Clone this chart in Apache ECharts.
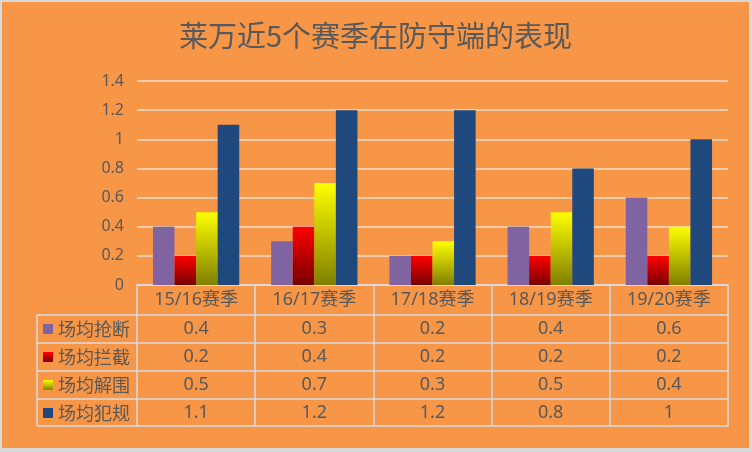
<!DOCTYPE html>
<html><head><meta charset="utf-8">
<script src="https://cdn.jsdelivr.net/npm/echarts@6/dist/echarts.min.js"></script>
<style>
html,body{margin:0;padding:0;background:#D9D9D9;width:752px;height:452px;overflow:hidden;}
#c{position:absolute;left:2px;top:2px;width:747px;height:446px;}
</style></head><body>
<div id="c"></div>
<script>
const categories = ['15/16赛季','16/17赛季','17/18赛季','18/19赛季','19/20赛季'];
const seriesNames = ['场均抢断','场均拦截','场均解围','场均犯规'];
const steals = [0.4, 0.3, 0.2, 0.4, 0.6];
const blocks = [0.2, 0.4, 0.2, 0.2, 0.2];
const clearances = [0.5, 0.7, 0.3, 0.5, 0.4];
const fouls = [1.1, 1.2, 1.2, 0.8, 1];
const yTicks = {min: 0, max: 1.4, interval: 0.2};

const TXT = '#595959';
const TABLE_LINE = '#D8DCE2';
const GRID_LINE = '#F1DDCC';
const FONT = 'Noto Sans, Noto Sans CJK SC, sans-serif';

const W = 747, H = 446;
const gridLeft = 135, gridRight = 21, gridTop = 79, gridBottom = 163;
const axisY = H - gridBottom;            // y of category axis line
const headerH = 30;
const rowHs = [28, 28, 28, 27];
const legendLeft = 35;

const values = [steals, blocks, clearances, fouls];
const colors = [
  '#8064A2',
  {type:'linear',x:0,y:0,x2:0,y2:1,colorStops:[{offset:0,color:'#FF0000'},{offset:1,color:'#780000'}]},
  {type:'linear',x:0,y:0,x2:0,y2:1,colorStops:[{offset:0,color:'#FFFF00'},{offset:1,color:'#7F7F00'}]},
  '#1F497D'
];

// row top offsets below the axis line
const rowOffsets = [];
let acc = headerH;
for (let i = 0; i < rowHs.length; i++) { rowOffsets.push(acc); acc += rowHs[i]; }
const tableBottomOffset = acc;

const xAxes = [{
  type:'category', data: categories, gridIndex:0, position:'bottom',
  axisLine:{show:true, lineStyle:{color:TABLE_LINE, width:1.5}},
  axisTick:{show:true, length:headerH, lineStyle:{color:TABLE_LINE, width:1.5}},
  axisLabel:{interval:0, margin:headerH/2, verticalAlign:'middle', color:TXT, fontSize:18, fontFamily:FONT},
  splitLine:{show:false}
}];
values.forEach((vals, i) => {
  xAxes.push({
    type:'category', data: vals.map(v => String(v)), gridIndex:0, position:'bottom', offset: rowOffsets[i],
    axisLine:{show:true, lineStyle:{color:TABLE_LINE, width:1.5}},
    axisTick:{show:true, length:rowHs[i], lineStyle:{color:TABLE_LINE, width:1.5}},
    axisLabel:{interval:0, margin:rowHs[i]/2, verticalAlign:'middle', color:TXT, fontSize:18, fontFamily:FONT},
    splitLine:{show:false}
  });
});
xAxes.push({
  type:'category', data: categories, gridIndex:0, position:'bottom', offset: tableBottomOffset,
  axisLine:{show:true, lineStyle:{color:TABLE_LINE, width:1.5}},
  axisTick:{show:false}, axisLabel:{show:false}, splitLine:{show:false}
});

// left legend-column lines
const graphics = [];
const lineYs = [axisY + headerH];
rowOffsets.forEach((o, i) => lineYs.push(axisY + o + rowHs[i]));
lineYs.forEach(y => graphics.push({type:'line', shape:{x1:legendLeft, y1:y, x2:gridLeft, y2:y}, style:{stroke:TABLE_LINE, lineWidth:1.5}, silent:true}));
graphics.push({type:'line', shape:{x1:legendLeft, y1:axisY+headerH, x2:legendLeft, y2:axisY+tableBottomOffset}, style:{stroke:TABLE_LINE, lineWidth:1.5}, silent:true});

const chart = echarts.init(document.getElementById('c'));
chart.setOption({
  backgroundColor:'#F79646',
  animation:false,
  title:{text:'莱万近5个赛季在防守端的表现', left:'center', top:14,
    textStyle:{color:TXT, fontSize:29, fontWeight:'normal', fontFamily:'Noto Sans CJK SC, sans-serif'}},
  legend:{orient:'vertical', left:legendLeft+6, top:axisY+headerH, itemGap:0, padding:0,
    icon:'rect', itemWidth:10, itemHeight:10, selectedMode:false,
    textStyle:{color:TXT, fontSize:18, lineHeight:28, fontFamily:'Noto Sans CJK SC, sans-serif'},
    data: seriesNames},
  grid:{left:gridLeft, right:gridRight, top:gridTop, bottom:gridBottom},
  xAxis: xAxes,
  yAxis:{type:'value', min:yTicks.min, max:yTicks.max, interval:yTicks.interval,
    axisLine:{show:false}, axisTick:{show:false},
    axisLabel:{color:TXT, fontSize:16, margin:13, fontFamily:FONT},
    splitLine:{lineStyle:{color:GRID_LINE, width:1.5}}},
  series: seriesNames.map((n, i) => ({
    name:n, type:'bar', xAxisIndex:0, data: values[i],
    barGap:'0%', barCategoryGap:'27%',
    itemStyle:{color: colors[i]}
  })),
  graphic: graphics
});
</script></body></html>
